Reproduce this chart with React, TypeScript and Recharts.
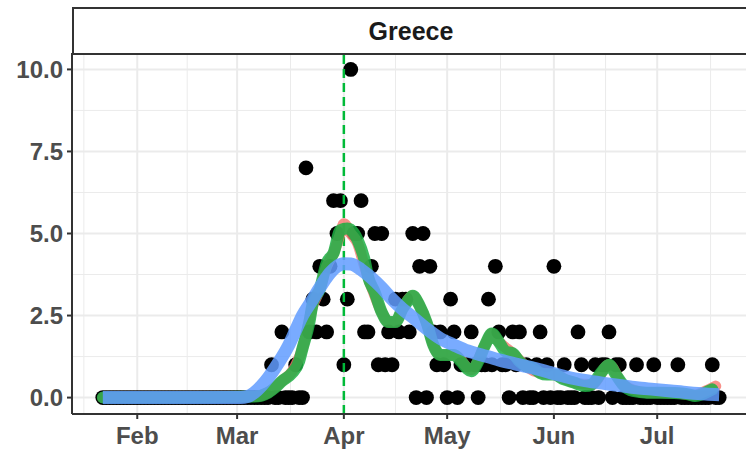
import { ComposedChart, Scatter, Line, XAxis, YAxis, CartesianGrid, ReferenceLine } from "recharts";

// Greece, daily deaths. Day 0 = 2020-01-22, one value per day.
const deaths = [
  0, 0, 0, 0, 0, 0, 0, 0, 0, 0, 0, 0, 0, 0, 0, 0, 0, 0, 0, 0,
  0, 0, 0, 0, 0, 0, 0, 0, 0, 0, 0, 0, 0, 0, 0, 0, 0, 0, 0, 0,
  0, 0, 0, 0, 0, 0, 0, 0, 0, 1, 0, 0, 2, 0, 0, 0, 1, 0, 0, 7,
  2, 3, 2, 4, 3, 2, 4, 6, 5, 6, 1, 3, 10, 5, 5, 6, 2, 2, 4, 5,
  1, 5, 1, 2, 1, 3, 2, 3, 3, 2, 5, 0, 4, 5, 0, 4, 2, 1, 2, 1,
  0, 3, 2, 0, 1, 1, 1, 2, 1, 0, 1, 1, 3, 1, 4, 2, 1, 1, 0, 2,
  1, 2, 0, 1, 0, 0, 1, 2, 0, 1, 0, 4, 0, 0, 1, 0, 0, 0, 2, 1,
  0, 0, 0, 1, 0, 1, 1, 2, 0, 1, 1, 0, 0, 0, 0, 1, 0, 0, 0, 0,
  1, 0, 0, 0, 0, 0, 0, 1, 0, 0, 0, 0, 0, 0, 0, 0, 0, 1, 0, 0,
];

// rolling average (green)
const greenDays = [0, 20, 44, 48, 50, 52, 55, 57, 58, 60, 61, 63, 65, 67, 69, 71, 73, 74, 76, 77, 79, 81, 83, 85, 87, 89, 90, 92, 94, 96, 98, 100, 102, 104, 107, 109, 111, 113, 115, 117, 119, 121, 123, 125, 127, 129, 131, 134, 137, 140, 142, 145, 147, 149, 151, 154, 158, 162, 166, 170, 172, 174, 176, 177];
const greenVals = [0, 0, 0.03, 0.15, 0.3, 0.5, 0.75, 1.1, 1.5, 2.3, 2.9, 3.3, 4.1, 4.4, 5.1, 5.15, 5.0, 4.8, 4.2, 3.7, 3.2, 2.6, 2.3, 2.3, 2.7, 3.0, 3.1, 2.8, 2.3, 1.6, 1.3, 1.3, 1.3, 1.1, 0.8, 1.1, 1.6, 1.95, 1.7, 1.4, 1.35, 1.1, 0.95, 0.9, 0.75, 0.7, 0.7, 0.55, 0.45, 0.35, 0.4, 0.8, 1.0, 0.7, 0.4, 0.2, 0.15, 0.15, 0.14, 0.1, 0.05, 0.1, 0.2, 0.25];

// second average (red), mostly hidden under the green one
const redDays = [0, 20, 44, 48, 52, 55, 58, 61, 63, 65, 67, 69, 70, 72, 74, 76, 79, 81, 83, 85, 87, 90, 92, 94, 96, 98, 102, 107, 111, 113, 115, 119, 123, 127, 131, 137, 142, 147, 151, 158, 166, 172, 175, 178];
const redVals = [0, 0, 0.03, 0.15, 0.5, 0.8, 1.5, 2.8, 3.3, 4.0, 4.4, 5.0, 5.3, 5.0, 4.7, 4.0, 3.1, 2.6, 2.3, 2.3, 2.7, 3.1, 2.8, 2.3, 1.6, 1.3, 1.3, 0.85, 1.6, 1.95, 1.7, 1.35, 0.95, 0.75, 0.7, 0.45, 0.4, 1.0, 0.4, 0.15, 0.14, 0.08, 0.2, 0.35];

// smoothed trend (blue)
const blueDays = [0, 40, 42, 44, 46, 48, 51, 54, 56, 58, 61, 63, 66, 68, 70, 72, 75, 78, 81, 84, 87, 90, 94, 98, 102, 106, 110, 115, 120, 125, 130, 135, 140, 145, 150, 155, 160, 165, 170, 175, 179];
const blueVals = [0, 0, 0.03, 0.15, 0.35, 0.6, 1.06, 1.6, 2.05, 2.5, 3.0, 3.35, 3.8, 4.0, 4.08, 4.07, 3.9, 3.65, 3.35, 3.0, 2.7, 2.45, 2.1, 1.8, 1.6, 1.42, 1.3, 1.15, 1.02, 0.9, 0.76, 0.62, 0.52, 0.44, 0.37, 0.3, 0.25, 0.2, 0.15, 0.11, 0.09];

const monthTicks = [10, 39, 70, 100, 131, 161];
const monthLabels = ["Feb", "Mar", "Apr", "May", "Jun", "Jul"];
const minorX = [-5.5, 24.5, 54.5, 85, 115.5, 146, 176.5];
const yTicks = [0, 2.5, 5, 7.5, 10];
const minorY = [1.25, 3.75, 6.25, 8.75];
const markerDay = 70; // 1 April

const pts = deaths.map((v, d) => ({ d, v }));
const toRows = (days: number[], vals: number[]) => days.map((d, i) => ({ d, v: vals[i] }));

const TICK = { fontSize: 24, fontWeight: 700, fill: "#4D4D4D", fontFamily: "Liberation Sans, Arial, sans-serif" } as const;
const GRID = "#EBEBEB";
const DARK = "#333333";

export default function App() {
  return (
    <div style={{ position: "absolute", left: 0, top: 0, width: 746, height: 451, overflow: "hidden", background: "#fff", fontFamily: "Liberation Sans, Arial, sans-serif" }}>
      <ComposedChart width={760} height={451} margin={{ top: 53, right: 10, bottom: 0, left: 0 }}>
        <CartesianGrid stroke={GRID} strokeWidth={2} fill="none" />
        {minorX.map((x) => <ReferenceLine key={"mx" + x} x={x} stroke={GRID} strokeWidth={1} zIndex={-90} />)}
        {minorY.map((y) => <ReferenceLine key={"my" + y} y={y} stroke={GRID} strokeWidth={1} zIndex={-90} />)}
        <XAxis type="number" dataKey="d" domain={[-8.95, 187.95]} ticks={monthTicks} allowDataOverflow
          tickFormatter={(t) => monthLabels[monthTicks.indexOf(t)] ?? ""}
          tick={TICK} height={37} tickSize={5} tickMargin={8}
          axisLine={{ stroke: DARK, strokeWidth: 2 }} tickLine={{ stroke: DARK, strokeWidth: 2 }} />
        <YAxis type="number" dataKey="v" domain={[-0.5, 10.5]} ticks={yTicks} allowDataOverflow
          tickFormatter={(t) => Number(t).toFixed(1)}
          tick={TICK} width={72} tickSize={5} tickMargin={4}
          axisLine={{ stroke: DARK, strokeWidth: 2 }} tickLine={{ stroke: DARK, strokeWidth: 2 }} />
        <Scatter data={pts} dataKey="v" isAnimationActive={false} zIndex={100}
          shape={(p: any) => <circle cx={p.cx} cy={p.cy} r={7.4} fill="#000" />} />
        <ReferenceLine x={markerDay} stroke="#00BA38" strokeWidth={2.5} strokeDasharray="9 5" zIndex={150} />
        <Line data={toRows(redDays, redVals)} dataKey="v" type="monotone" dot={false} isAnimationActive={false}
          stroke="#F8766D" strokeOpacity={0.8} strokeWidth={11} strokeLinecap="round" strokeLinejoin="round" zIndex={300} />
        <Line data={toRows(greenDays, greenVals)} dataKey="v" type="monotone" dot={false} isAnimationActive={false}
          stroke="#1DAF44" strokeOpacity={0.85} strokeWidth={12} strokeLinecap="round" strokeLinejoin="round" zIndex={310} />
        <Line data={toRows(blueDays, blueVals)} dataKey="v" type="monotone" dot={false} isAnimationActive={false}
          stroke="#619CFF" strokeOpacity={0.85} strokeWidth={13} strokeLinecap="butt" strokeLinejoin="round" zIndex={320} />
      </ComposedChart>
      <div style={{ position: "absolute", left: 72, top: 7, width: 678, height: 48, boxSizing: "border-box", border: `2px solid ${DARK}`, background: "#fff",
        display: "flex", alignItems: "center", justifyContent: "center", fontSize: 25, fontWeight: 700, color: "#1A1A1A" }}>
        Greece
      </div>
    </div>
  );
}
